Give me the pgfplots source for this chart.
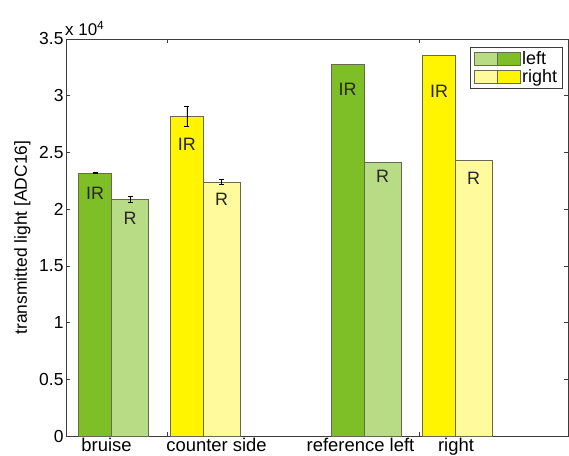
\documentclass[border=0pt]{standalone}
\usepackage{fontspec}
\setmainfont{Liberation Sans}
\usepackage{pgfplots}
\pgfplotsset{compat=1.18}
\definecolor{dgreen}{RGB}{126,190,38}
\definecolor{lgreen}{RGB}{184,220,134}
\definecolor{dyellow}{RGB}{255,245,0}
\definecolor{lyellow}{RGB}{255,250,155}
\definecolor{edgec}{RGB}{105,105,75}
\definecolor{axc}{RGB}{60,60,60}
\begin{document}
\begin{tikzpicture}
\begin{axis}[
  at={(66bp,20bp)}, anchor=south west,
  scale only axis, width=502bp, height=397bp,
  xmin=66, xmax=568, ymin=0, ymax=35000,
  axis line style={axc, line width=0.8pt},
  tick style={axc, line width=0.6pt},
  major tick length=4bp,
  tick align=inside,
  xtick={167,419}, xticklabels={},
  extra x ticks={106.5,216.5,360.5,456},
  extra x tick labels={bruise,counter side,reference left,right},
  extra x tick style={major tick length=0pt, tick label style={font=\fontsize{18.5}{19}\selectfont, yshift=1.5bp}},
  ytick={0,5000,10000,15000,20000,25000,30000,35000},
  yticklabels={0,0.5,1,1.5,2,2.5,3,3.5},
  scaled y ticks=false,
  yticklabel style={font=\fontsize{17.5}{19}\selectfont, xshift=1bp},
  /pgf/number format/assume math mode=true,
  ylabel={transmitted light [ADC16]},
  ylabel style={font=\fontsize{17.5}{19}\selectfont, yshift=2bp},
  clip=false,
  legend style={at={(0.990,0.980)}, anchor=north east, draw=axc, line width=0.8pt,
    font=\fontsize{18}{18}\selectfont, row sep=-1bp, inner xsep=3.5bp, inner ysep=2.5bp,
    cells={anchor=west}},
  legend cell align=left,
]
% left R (light green)
\addplot[ybar, bar shift=0pt, bar width=37, fill=lgreen, draw=edgec, line width=0.6pt, forget plot]
  coordinates {(382.5,24100)};
% right R (light yellow)
\addplot[ybar, bar shift=0pt, bar width=37, fill=lyellow, draw=edgec, line width=0.6pt, forget plot]
  coordinates {(473.5,24300)};
% left IR (dark green)
\addplot[ybar, bar shift=0pt, bar width=33, fill=dgreen, draw=edgec, line width=0.6pt,
  legend image code/.code={
    \draw[draw=edgec, fill=lgreen, line width=0.5pt] (0bp,-6.5bp) rectangle (23bp,6.5bp);
    \draw[draw=edgec, fill=dgreen, line width=0.5pt] (23bp,-6.5bp) rectangle (46bp,6.5bp);}]
  coordinates {(347.5,32800)};
\addlegendentry{left}
% right IR (yellow)
\addplot[ybar, bar shift=0pt, bar width=33, fill=dyellow, draw=edgec, line width=0.6pt,
  legend image code/.code={
    \draw[draw=edgec, fill=lyellow, line width=0.5pt] (0bp,-6.5bp) rectangle (23bp,6.5bp);
    \draw[draw=edgec, fill=dyellow, line width=0.5pt] (23bp,-6.5bp) rectangle (46bp,6.5bp);}]
  coordinates {(439,33600)};
\addlegendentry{right}
% bruise / counter side with error bars
\addplot[ybar, bar shift=0pt, bar width=37, fill=lgreen, draw=edgec, line width=0.6pt, forget plot,
  error bars/.cd, y dir=both, y explicit, error bar style={black, line width=0.5pt},
  error mark options={rotate=90, mark size=2.5bp, black, line width=0.5pt}]
  coordinates {(130,20900) +- (0,250)};
\addplot[ybar, bar shift=0pt, bar width=33, fill=dgreen, draw=edgec, line width=0.6pt, forget plot,
  error bars/.cd, y dir=both, y explicit, error bar style={black, line width=0.5pt},
  error mark options={rotate=90, mark size=2.5bp, black, line width=0.5pt}]
  coordinates {(95,23200) +- (0,50)};
\addplot[ybar, bar shift=0pt, bar width=37, fill=lyellow, draw=edgec, line width=0.6pt, forget plot,
  error bars/.cd, y dir=both, y explicit, error bar style={black, line width=0.5pt},
  error mark options={rotate=90, mark size=2.5bp, black, line width=0.5pt}]
  coordinates {(221.5,22400) +- (0,200)};
\addplot[ybar, bar shift=0pt, bar width=33, fill=dyellow, draw=edgec, line width=0.6pt, forget plot,
  error bars/.cd, y dir=both, y explicit, error bar style={black, line width=0.5pt},
  error mark options={rotate=90, mark size=2.5bp, black, line width=0.5pt}]
  coordinates {(186.75,28200) +- (0,850)};
% bar labels
\begin{scope}[every node/.style={font=\fontsize{18}{20}\selectfont, text=black!85}]
\node at (axis cs:95,21380) {IR};
\node at (axis cs:130,19200) {R};
\node at (axis cs:186.75,25740) {IR};
\node at (axis cs:221.5,20850) {R};
\node at (axis cs:347.5,30600) {IR};
\node at (axis cs:382.5,22880) {R};
\node at (axis cs:439,30370) {IR};
\node at (axis cs:473.5,22750) {R};
\end{scope}
\node[anchor=south west, font=\fontsize{17}{18}\selectfont, inner sep=0pt] at (rel axis cs:0,1) [yshift=3bp, xshift=-1bp] {x 10\textsuperscript{4}};
\end{axis}
\pgfresetboundingbox
\path (0,0) rectangle (569bp,456bp);
\end{tikzpicture}
\end{document}
